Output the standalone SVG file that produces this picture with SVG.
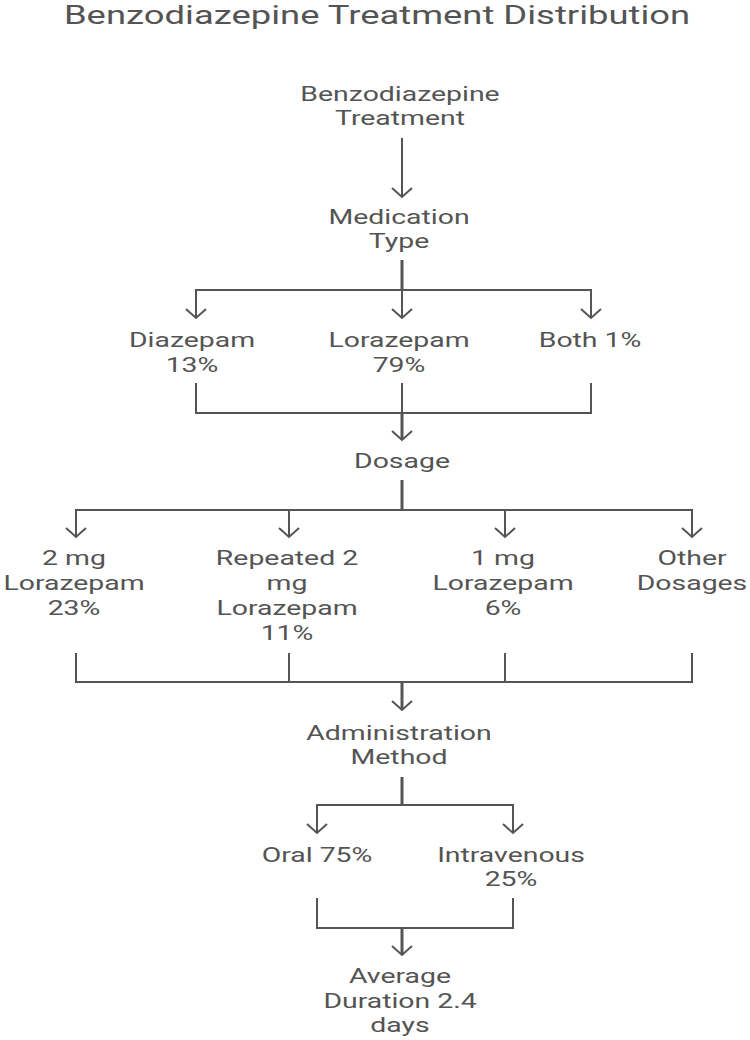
<svg xmlns="http://www.w3.org/2000/svg" width="750" height="1040" viewBox="0 0 750 1040">
<style>
.t{font-family:Roboto,"Liberation Sans",sans-serif;font-size:20px;fill:#545454;text-anchor:middle}
.title{font-family:Roboto,"Liberation Sans",sans-serif;font-size:26px;fill:#545454;text-anchor:middle}
.c{fill:none;stroke:#555;stroke-width:2;stroke-linejoin:miter}
.s{fill:none;stroke:#555;stroke-width:3}
</style>
<defs>
<marker id="ah" markerUnits="userSpaceOnUse" markerWidth="30" markerHeight="30" refX="0" refY="0" viewBox="-15 -15 30 30" orient="auto" overflow="visible">
<path d="M-9,-10 L0,0 L-9,10" fill="none" stroke="#555" stroke-width="2"/>
</marker>
</defs>
<rect width="750" height="1040" fill="#fff"/>
<text class="title" transform="translate(377,24) scale(1.4,1)" x="0" y="0">Benzodiazepine Treatment Distribution</text>

<g id="connectors">
<line class="c" x1="402" y1="138" x2="402" y2="197" marker-end="url(#ah)"/>
<line class="s" x1="402" y1="260" x2="402" y2="290"/>
<polyline class="c" points="196,318 196,290 591,290 591,318"/>
<line class="c" x1="196" y1="291" x2="196" y2="318" marker-end="url(#ah)"/>
<line class="c" x1="591" y1="291" x2="591" y2="318" marker-end="url(#ah)"/>
<line class="c" x1="402" y1="290" x2="402" y2="318" marker-end="url(#ah)"/>
<polyline class="c" points="196,383 196,413 591,413 591,383"/>
<line class="c" x1="402" y1="383" x2="402" y2="413"/>
<line class="s" x1="402" y1="413" x2="402" y2="440" marker-end="url(#ah)"/>
<line class="s" x1="402" y1="480" x2="402" y2="510"/>
<polyline class="c" points="76,537 76,510 692,510 692,537"/>
<line class="c" x1="76" y1="511" x2="76" y2="537" marker-end="url(#ah)"/>
<line class="c" x1="289" y1="510" x2="289" y2="537" marker-end="url(#ah)"/>
<line class="c" x1="505" y1="510" x2="505" y2="537" marker-end="url(#ah)"/>
<line class="c" x1="692" y1="511" x2="692" y2="537" marker-end="url(#ah)"/>
<polyline class="c" points="76,653 76,682 692,682 692,653"/>
<line class="c" x1="289" y1="653" x2="289" y2="682"/>
<line class="c" x1="505" y1="653" x2="505" y2="682"/>
<line class="s" x1="402" y1="682" x2="402" y2="710" marker-end="url(#ah)"/>
<line class="s" x1="402" y1="777" x2="402" y2="805"/>
<polyline class="c" points="317,833 317,805 513,805 513,833"/>
<line class="c" x1="317" y1="806" x2="317" y2="833" marker-end="url(#ah)"/>
<line class="c" x1="513" y1="806" x2="513" y2="833" marker-end="url(#ah)"/>
<polyline class="c" points="317,898 317,928 513,928 513,898"/>
<line class="s" x1="402" y1="928" x2="402" y2="955" marker-end="url(#ah)"/>
</g>

<g id="n-treatment"><text class="t" transform="translate(400,101) scale(1.42,1)" x="0" y="0">Benzodiazepine<tspan x="0" dy="24">Treatment</tspan></text></g>
<g id="n-medtype"><text class="t" transform="translate(399,224) scale(1.42,1)" x="0" y="0">Medication<tspan x="0" dy="24">Type</tspan></text></g>
<g id="n-diazepam"><text class="t" transform="translate(192,347) scale(1.42,1)" x="0" y="0">Diazepam<tspan x="0" dy="25">13%</tspan></text></g>
<g id="n-lorazepam"><text class="t" transform="translate(399,347) scale(1.42,1)" x="0" y="0">Lorazepam<tspan x="0" dy="25">79%</tspan></text></g>
<g id="n-both"><text class="t" transform="translate(590,347) scale(1.42,1)" x="0" y="0">Both 1%</text></g>
<g id="n-dosage"><text class="t" transform="translate(402,468) scale(1.42,1)" x="0" y="0">Dosage</text></g>
<g id="n-2mg"><text class="t" transform="translate(74,565) scale(1.42,1)" x="0" y="0">2 mg<tspan x="0" dy="25">Lorazepam</tspan><tspan x="0" dy="25">23%</tspan></text></g>
<g id="n-rep2mg"><text class="t" transform="translate(287,565) scale(1.42,1)" x="0" y="0">Repeated 2<tspan x="0" dy="25">mg</tspan><tspan x="0" dy="25">Lorazepam</tspan><tspan x="0" dy="25">11%</tspan></text></g>
<g id="n-1mg"><text class="t" transform="translate(503,565) scale(1.42,1)" x="0" y="0">1 mg<tspan x="0" dy="25">Lorazepam</tspan><tspan x="0" dy="25">6%</tspan></text></g>
<g id="n-other"><text class="t" transform="translate(692,565) scale(1.42,1)" x="0" y="0">Other<tspan x="0" dy="25">Dosages</tspan></text></g>
<g id="n-admin"><text class="t" transform="translate(399,740) scale(1.42,1)" x="0" y="0">Administration<tspan x="0" dy="24">Method</tspan></text></g>
<g id="n-oral"><text class="t" transform="translate(317,862) scale(1.42,1)" x="0" y="0">Oral 75%</text></g>
<g id="n-iv"><text class="t" transform="translate(511,862) scale(1.42,1)" x="0" y="0">Intravenous<tspan x="0" dy="24">25%</tspan></text></g>
<g id="n-duration"><text class="t" transform="translate(400,983) scale(1.42,1)" x="0" y="0">Average<tspan x="0" dy="25">Duration 2.4</tspan><tspan x="0" dy="24">days</tspan></text></g>
</svg>
